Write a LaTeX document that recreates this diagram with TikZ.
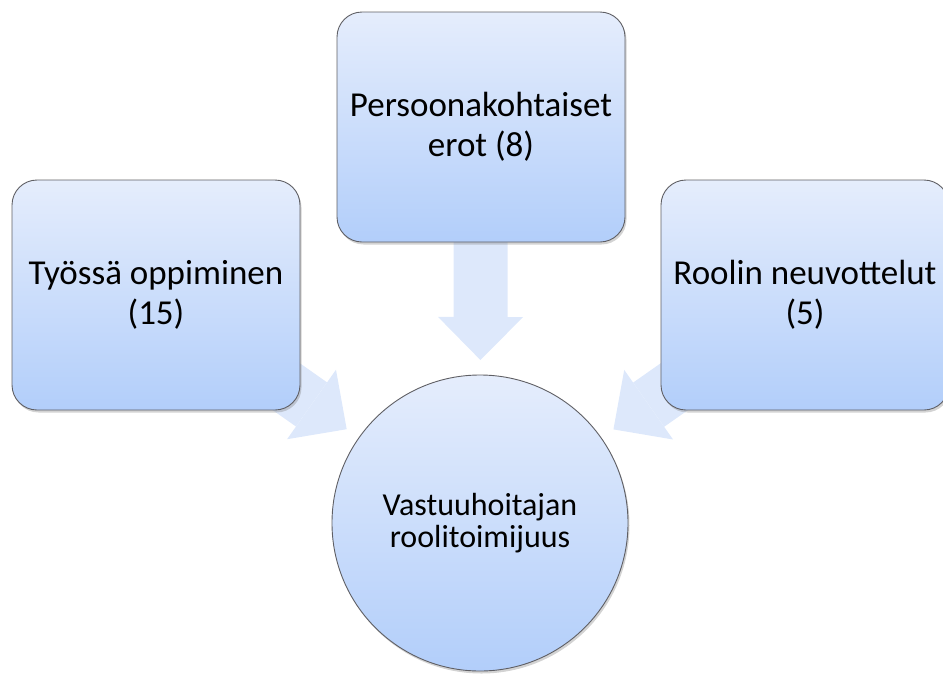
\documentclass[tikz,border=0pt]{standalone}
\usepackage{fontspec}
\setmainfont{Carlito}
\usepackage{tikz}
\usetikzlibrary{arrows.meta,shadows,backgrounds}
\definecolor{boxtop}{RGB}{229,237,252}
\definecolor{boxbot}{RGB}{178,206,250}
\definecolor{boxline}{RGB}{95,95,100}
\definecolor{arrowfill}{RGB}{221,232,251}

\begin{document}
\begin{tikzpicture}[
  topic/.style={draw=boxline, line width=0.9pt, rounded corners=25pt, minimum width=288pt, minimum height=230pt, top color=boxtop, bottom color=boxbot, drop shadow={opacity=0.35, shadow xshift=1.5pt, shadow yshift=-2.5pt}, align=center, font=\fontsize{35}{40}\selectfont},
  hubnode/.style={circle, draw=boxline, line width=0.9pt, minimum size=296pt, inner sep=0pt, top color=boxtop, bottom color=boxbot, drop shadow={opacity=0.35, shadow xshift=1.5pt, shadow yshift=-2.5pt}, align=center, font=\fontsize{32}{32}\selectfont},
  fat/.style={arrowfill, line width=54pt, line cap=butt, -{Triangle[length=43pt, width=85pt, line width=0pt]}, shorten <=100pt, shorten >=163pt}]
\useasboundingbox (0pt, 0pt) rectangle (943pt, -673pt);
\draw (156pt, -295pt)node[topic](tyo){Työssä oppiminen\\(15)};
\draw (481pt, -127pt)node[topic](pers){Persoonakohtaiset\\erot (8)};
\draw (805pt, -295pt)node[topic](rooli){Roolin neuvottelut\\(5)};
\draw (480pt, -523pt)node[hubnode](hub){Vastuuhoitajan\\roolitoimijuus};
\begin{scope}[on background layer]
\draw[fat] (tyo.center) -- (hub.center);
\draw[fat] (pers.center) -- (hub.center);
\draw[fat] (rooli.center) -- (hub.center);
\end{scope}
\end{tikzpicture}
\end{document}
